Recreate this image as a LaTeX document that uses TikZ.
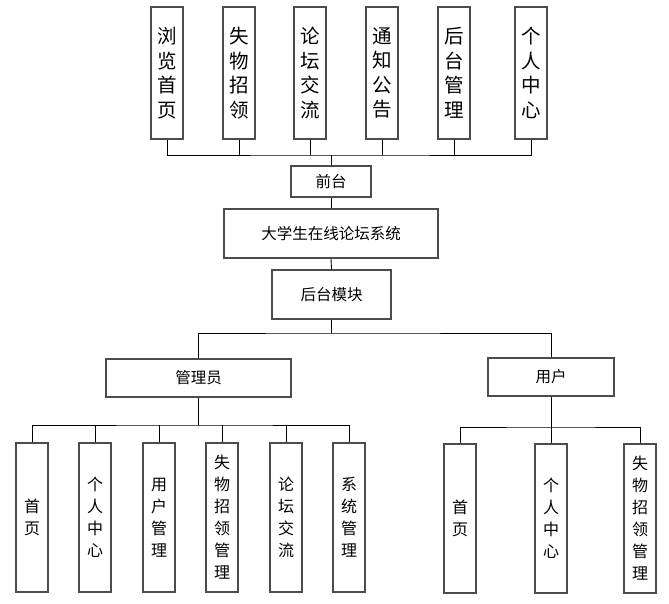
\documentclass[tikz,border=0pt]{standalone}
\usepackage{fontspec}
\newfontfamily\cjk{Noto Sans CJK SC}
\usetikzlibrary{shadows}
\tikzset{
    boxA/.style={draw=black!70, line width=1.2pt, fill=white, inner sep=0pt, align=center,
        drop shadow={shadow xshift=1.3pt, shadow yshift=-1.3pt, fill=black!18, opacity=1}},
    topV/.style={boxA, minimum width=32pt, minimum height=132pt, font=\cjk\fontsize{19.5}{24.5}\selectfont},
    lowV/.style={boxA, minimum width=32pt, minimum height=149pt, font=\cjk\fontsize{16}{22}\selectfont},
    midH/.style={boxA, font=\cjk\fontsize{15.5}{18}\selectfont},
    link/.style={draw=black, line width=0.9pt}
}

\begin{document}
\begin{tikzpicture}[x=1pt, y=-1pt]
    \useasboundingbox (0,0) rectangle (669,604);
    % front end
    \node[topV] (t1) at (167,73) {浏\\览\\首\\页};
    \node[topV] (t2) at (239,73) {失\\物\\招\\领};
    \node[topV] (t3) at (310,73) {论\\坛\\交\\流};
    \node[topV] (t4) at (382,73) {通\\知\\公\\告};
    \node[topV] (t5) at (454,73) {后\\台\\管\\理};
    \node[topV] (t6) at (531,73) {个\\人\\中\\心};
    \node[midH, minimum width=80pt, minimum height=31pt] (qt) at (331,181.5) {前台};
    \node[midH, minimum width=214pt, minimum height=49pt] (sys) at (331,233.5) {大学生在线论坛系统};
    \node[midH, minimum width=119pt, minimum height=49pt] (ht) at (331.5,294.5) {后台模块};
    \node[midH, minimum width=185pt, minimum height=38pt] (gly) at (198.5,378) {管理员};
    \node[midH, minimum width=126pt, minimum height=38pt] (yh) at (551,377) {用户};
    % admin
    \node[lowV] (m1) at (32,517.5) {首\\页};
    \node[lowV] (m2) at (95,517.5) {个\\人\\中\\心};
    \node[lowV] (m3) at (159,517.5) {用\\户\\管\\理};
    \node[lowV] (m4) at (222,517.5) {失\\物\\招\\领\\管\\理};
    \node[lowV] (m5) at (286,517.5) {论\\坛\\交\\流};
    \node[lowV] (m6) at (349,517.5) {系\\统\\管\\理};
    % user
    \node[lowV] (u1) at (460,518.5) {首\\页};
    \node[lowV] (u2) at (551,518.5) {个\\人\\中\\心};
    \node[lowV] (u3) at (640,518.5) {失\\物\\招\\领\\管\\理};

    \coordinate (busT) at (331,155);
    \coordinate (busM) at (331.5,333);
    \coordinate (busA) at (198.5,425);
    \coordinate (busU) at (551,427);

    \draw[link] (t1.south) |- (busT) -| (t6.south);
    \draw[link] (t2.south) -- (t2.south |- busT);
    \draw[link] (t3.south) -- (t3.south |- busT);
    \draw[link] (t4.south) -- (t4.south |- busT);
    \draw[link] (t5.south) -- (t5.south |- busT);
    \draw[link] (qt.north) -- (busT);
    \draw[link] (qt.south) -- (sys.north);
    \draw[link] (sys.south) -- (ht.north);
    \draw[link] (ht.south) -- (busM);
    \draw[link] (gly.north) |- (busM) -| (yh.north);

    \draw[link] (m1.north) |- (busA) -| (m6.north);
    \draw[link] (m2.north) -- (m2.north |- busA);
    \draw[link] (m3.north) -- (m3.north |- busA);
    \draw[link] (m4.north) -- (m4.north |- busA);
    \draw[link] (m5.north) -- (m5.north |- busA);
    \draw[link] (gly.south) -- (busA);

    \draw[link] (u1.north) |- (busU) -| (u3.north);
    \draw[link] (u2.north) -- (busU);
    \draw[link] (yh.south) -- (busU);
\end{tikzpicture}
\end{document}
